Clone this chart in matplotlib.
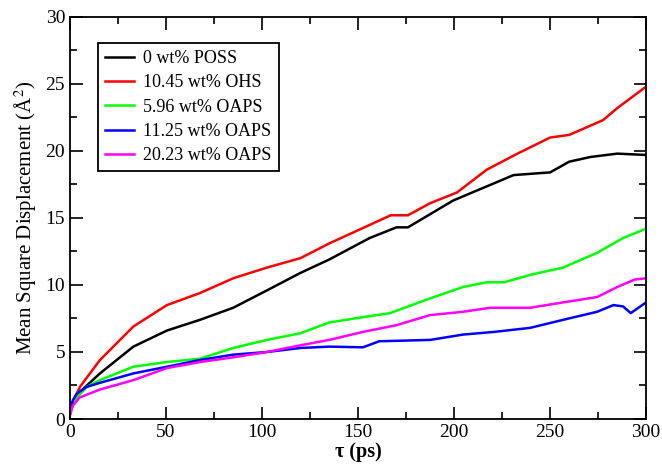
import matplotlib.pyplot as plt
from matplotlib.ticker import MultipleLocator

plt.rcParams['font.family'] = ['Liberation Serif', 'DejaVu Serif']
plt.rcParams['mathtext.fontset'] = 'stix'

# 0 wt% POSS
t_black = [0, 1.5, 5, 15.6, 33, 50.5, 67.7, 85, 102.6, 120, 135, 156, 170, 176, 199.5, 231, 250, 260, 271, 285, 300]
y_black = [0.5, 1.3, 2.0, 3.4, 5.4, 6.6, 7.4, 8.3, 9.6, 10.9, 11.9, 13.5, 14.3, 14.3, 16.3, 18.2, 18.4, 19.2, 19.55, 19.8, 19.7]

# 10.45 wt% OHS
t_red = [0, 1.5, 5.2, 15.6, 33, 50.5, 67.7, 85, 102.6, 120, 135, 167, 176, 187.5, 201.5, 217, 233, 250, 260, 277.6, 285, 300]
y_red = [0.3, 1.3, 2.4, 4.4, 6.9, 8.5, 9.4, 10.5, 11.3, 12.0, 13.1, 15.2, 15.2, 16.1, 16.9, 18.6, 19.8, 21.0, 21.2, 22.3, 23.2, 24.8]

# 5.96 wt% OAPS
t_green = [0, 1.5, 3.6, 8.8, 15.6, 33, 50.5, 67.7, 85, 102.6, 120, 135, 152.6, 166.7, 187.5, 204.7, 217, 226, 239.6, 256.8, 274.5, 288, 300]
y_green = [0.4, 1.1, 1.6, 2.4, 2.9, 3.9, 4.25, 4.5, 5.3, 5.9, 6.4, 7.2, 7.6, 7.9, 9.0, 9.85, 10.2, 10.2, 10.75, 11.3, 12.4, 13.5, 14.2]

# 11.25 wt% OAPS
t_blue = [0, 1.5, 3.6, 8.8, 15.6, 33, 50.5, 67.7, 85, 102.6, 120, 135, 152.6, 161, 187.5, 204.7, 221, 239.6, 256.8, 274.5, 283, 288, 292, 300]
y_blue = [0.5, 1.4, 1.9, 2.4, 2.7, 3.4, 3.9, 4.4, 4.8, 5.0, 5.3, 5.4, 5.35, 5.8, 5.9, 6.3, 6.5, 6.8, 7.4, 8.0, 8.5, 8.4, 7.9, 8.7]

# 20.23 wt% OAPS
t_mag = [0, 1.5, 5, 15.6, 33, 50.5, 67.7, 85, 102.6, 120, 135, 152.6, 170, 187.5, 204.7, 218.8, 239.6, 256.8, 274.5, 285, 294, 300]
y_mag = [0.3, 1.0, 1.6, 2.2, 2.9, 3.8, 4.25, 4.6, 5.0, 5.5, 5.9, 6.5, 7.0, 7.75, 8.0, 8.3, 8.3, 8.7, 9.1, 9.85, 10.4, 10.5]

labels = ['0 wt% POSS', '10.45 wt% OHS', '5.96 wt% OAPS', '11.25 wt% OAPS', '20.23 wt% OAPS']

fig = plt.figure(figsize=(6.62, 4.70), dpi=100)
ax = fig.add_axes([0.1057, 0.1085, 0.8703, 0.8555])

ax.plot(t_black, y_black, color='black', lw=1.8, label=labels[0])
ax.plot(t_red, y_red, color='red', lw=1.8, label=labels[1])
ax.plot(t_green, y_green, color='#00ff00', lw=1.8, label=labels[2])
ax.plot(t_blue, y_blue, color='blue', lw=1.8, label=labels[3])
ax.plot(t_mag, y_mag, color='magenta', lw=1.8, label=labels[4])

ax.set_xlim(0, 300)
ax.set_ylim(0, 30)
ax.xaxis.set_major_locator(MultipleLocator(50))
ax.xaxis.set_minor_locator(MultipleLocator(25))
ax.yaxis.set_major_locator(MultipleLocator(5))
ax.yaxis.set_minor_locator(MultipleLocator(2.5))
ax.tick_params(which='both', direction='in', top=True, right=True, labelsize=14, width=1.2)
ax.tick_params(which='major', length=9)
ax.tick_params(which='minor', length=5)
for s in ax.spines.values():
    s.set_linewidth(1.3)

ax.set_xlabel('τ (ps)', fontsize=14.5, fontweight='bold', labelpad=1)
ax.set_ylabel('Mean Square Displacement (Å$^2$)', fontsize=15, labelpad=5)

leg = ax.legend(loc='upper left', bbox_to_anchor=(0.049, 0.935), borderaxespad=0,
                fancybox=False, edgecolor='black', fontsize=13, handlelength=1.6,
                labelspacing=0.4, handletextpad=0.5, framealpha=1)
leg.get_frame().set_linewidth(1.3)

plt.savefig('out.png', dpi=100)
